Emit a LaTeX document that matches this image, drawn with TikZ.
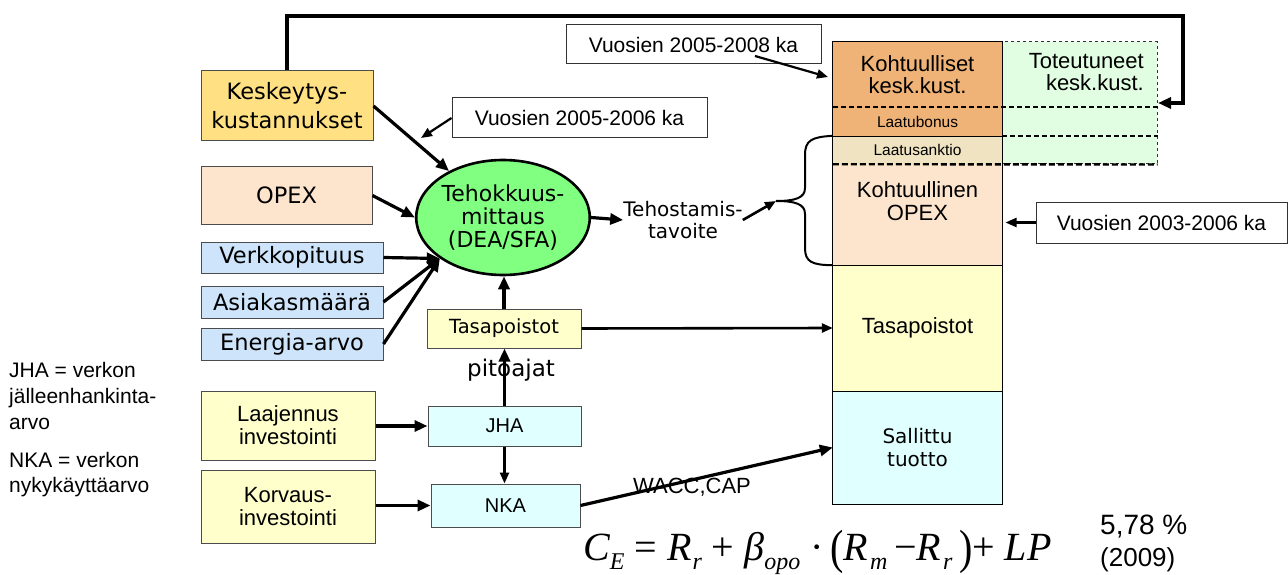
\documentclass[tikz,border=0pt]{standalone}
\usepackage{fontspec}
\usepackage{graphicx}
\setmainfont{DejaVu Sans}
\newfontfamily\ar{Liberation Sans}
\newfontfamily\tms{Liberation Serif}
\usetikzlibrary{arrows.meta,calc,shapes.geometric}
\newcommand\fsz[2]{\fontsize{#1}{#2}\selectfont}
\newcommand\sbs[1]{\raisebox{-9pt}{\fsz{24}{24}\itshape #1}}
\definecolor{kesc}{HTML}{FFE183}
\definecolor{opexc}{HTML}{FDE4CD}
\definecolor{bluec}{HTML}{CDE4FA}
\definecolor{greenc}{HTML}{80FF80}
\definecolor{yelc}{HTML}{FFFFCC}
\definecolor{cyanc}{HTML}{E0FFFF}
\definecolor{orc}{HTML}{EFB377}
\definecolor{begc}{HTML}{EFE3C1}
\definecolor{lgc}{HTML}{E2FEE2}
\begin{document}
\begin{tikzpicture}[x=1pt,y=-1pt,
  box/.style={draw=black!70, line width=1pt, inner sep=0pt, align=center},
  cell/.style={inner sep=0pt, align=center, minimum width=169pt},
  lab/.style={inner sep=0pt, align=center},
  arr/.style={line width=3.2pt, -{Triangle[length=13pt,width=11pt]}},
  tarr/.style={line width=2.2pt, -{Triangle[length=11pt,width=9pt]}},
  big/.style={font=\fsz{22.5}{29}},
  cnd/.style={font=\ar\fsz{21}{24}}
]
\useasboundingbox[fill=white] (0,0) rectangle (1288,575);

% ---------- left input boxes ----------
\node[box, big, fill=kesc, minimum width=172pt, minimum height=70pt] (kes) at (287,106) {Keskeytys-\\kustannukset};
\node[box, big, fill=opexc, minimum width=171pt, minimum height=57pt] (opex) at (286.5,195.5) {OPEX};
\node[box, big, fill=bluec, minimum width=182pt, minimum height=31pt] (verk) at (292,257.5) {Verkkopituus};
\node[box, big, fill=bluec, minimum width=182pt, minimum height=32pt] (asia) at (292,302) {Asiakasmäärä};
\node[box, big, fill=bluec, minimum width=182pt, minimum height=32pt] (ener) at (292,344) {Energia-arvo};

% ---------- efficiency measurement ----------
\node[ellipse, draw=black, line width=2.6pt, fill=greenc, minimum width=160pt, minimum height=115pt, inner sep=0pt, align=center, font=\fsz{22}{23}] (ell) at (503,217.5) {Tehokkuus-\\mittaus\\(DEA/SFA)};
\coordinate (conv) at (ell.213);

\node[box, draw=black!80, cnd, fill=white, minimum width=255pt, minimum height=40pt] (v0506) at (579.5,118) {Vuosien 2005-2006 ka};
\coordinate (p1) at (421,138);
\node[box, draw=black!80, cnd, fill=white, minimum width=255pt, minimum height=39pt] (v0508) at (693.5,44.5) {Vuosien 2005-2008 ka};
\coordinate (p2s) at (755,56);
\coordinate (p2e) at (828,77);

\node[lab, font=\fsz{20}{22}] (teh) at (683,220) {Tehostamis-\\tavoite};

% ---------- asset boxes ----------
\node[box, fill=yelc, minimum width=154pt, minimum height=39pt, font=\fsz{19.5}{22}] (tasa) at (504,328.5) {Tasapoistot};
\node[lab, font=\fsz{23}{23}] (pito) at (511,370) {pitoajat};
\node[box, cnd, font=\ar\fsz{22}{23}, fill=yelc, minimum width=174pt, minimum height=69pt] (laaj) at (288,425.5) {Laajennus\\investointi};
\node[box, cnd, font=\ar\fsz{22}{23}, fill=yelc, minimum width=174pt, minimum height=73pt] (korv) at (288,506.5) {Korvaus-\\investointi};
\node[box, font=\ar\fsz{20}{22}, fill=cyanc, minimum width=153pt, minimum height=40pt] (jha) at (504.5,426) {JHA};
\node[box, font=\ar\fsz{20}{22}, fill=cyanc, minimum width=149pt, minimum height=43pt] (nka) at (505.5,505.5) {NKA};
\node[lab, font=\ar\fsz{22}{22}] (wacc) at (692,487) {WACC,CAP};

% ---------- left explanations ----------
\node[lab, align=left, anchor=west, font=\ar\fsz{21}{26}] (jhaeq) at (9,396) {JHA = verkon\\jälleenhankinta-\\arvo};
\node[lab, align=left, anchor=west, font=\ar\fsz{21}{25}] (nkaeq) at (9,475) {NKA = verkon\\nykykäyttäarvo};

% ---------- cost column ----------
\node[cell, fill=orc, minimum height=65pt, font=\ar\fsz{22}{22}] (c1) at (917.5,74.5) {Kohtuulliset\\kesk.kust.};
\node[cell, fill=orc, minimum height=29pt, font=\ar\fsz{15.5}{16}] (c2) at (917.5,121.5) {Laatubonus};
\node[cell, fill=begc, minimum height=28pt, font=\ar\fsz{15.5}{16}] (c3) at (917.5,150) {Laatusanktio};
\node[cell, fill=opexc, minimum height=101pt] (c4) at (917.5,214.5) {};
\node[lab, font=\ar\fsz{22}{23}] (c4t) at (917.5,201.5) {Kohtuullinen\\OPEX};
\node[cell, fill=yelc, minimum height=126pt, font=\ar\fsz{22}{22}] (c5) at (917.5,328) {Tasapoistot};
\node[cell, fill=cyanc, minimum height=113pt, font=\fsz{20}{23}] (c6) at (917.5,447.5) {Sallittu\\tuotto};
\node[draw=black!80, dashed, line width=1pt, fill=lgc, minimum width=155pt, minimum height=122pt, inner sep=0pt] (tot) at (1079.5,103) {};
\node[lab, align=right, anchor=east, font=\ar\fsz{22}{22}] (tott) at (1144,72) {Toteutuneet\\kesk.kust.};

\draw[line width=1.3pt] (c1.north west) rectangle (c6.south east);
\draw[line width=1.3pt] (c2.south west) -- (c2.south east);
\draw[line width=1.3pt] (c4.south west) -- (c4.south east);
\draw[line width=1.3pt] (c5.south west) -- (c5.south east);
\draw[line width=1.3pt] (c1.north east) -- (c3.south east);
\draw[line width=1.6pt, dash pattern=on 5pt off 3pt] (c1.south west) -- (tot.east |- c1.south);
\draw[line width=1.6pt, dash pattern=on 5pt off 3pt] (c2.south east) -- (tot.east |- c2.south);
\draw[line width=2.4pt, dash pattern=on 6pt off 3pt] (c3.south west) -- (tot.south east);

\node[box, draw=black!80, cnd, fill=white, minimum width=251pt, minimum height=41pt] (v0306) at (1161.5,222.5) {Vuosien 2003-2006 ka};

% ---------- brace ----------
\coordinate (bt) at (776,201);
\draw[line width=2pt] (c3.north west) .. controls (812,137) and (805,140) .. (805,155) -- (805,188)
   .. controls (805,198) and (795,201) .. (bt)
   .. controls (795,201) and (805,204) .. (805,214) -- (805,248)
   .. controls (805,262) and (812,265) .. (c4.south west);

% ---------- formula ----------
\node[anchor=base west, inner sep=0pt, font=\tms\fsz{40}{40}] (form) at (583,560) {\itshape C\sbs{E}\upshape\ =\ \itshape R\kern1pt\sbs{r}\upshape\ +\ \itshape β\sbs{opo}\upshape\ ·\,\raisebox{-3pt}{\scalebox{1}[1.2]{(}}\itshape R\kern2pt\sbs{m}\upshape\,−\itshape R\kern2pt\sbs{r}\upshape\,\raisebox{-3pt}{\scalebox{1}[1.2]{)}}+\ \itshape LP};
\node[anchor=base west, inner sep=0pt, font=\ar\fsz{28}{28}] (pct) at (1100,534) {5,78~\%};
\node[anchor=base west, inner sep=0pt, font=\ar\fsz{26}{26}] (yr) at (1100,566) {(2009)};

% ---------- connectors ----------
\coordinate (fbA) at (1183,16);
\coordinate (fbB) at (1158,103);
\draw[arr] (kes.north) |- (fbA) |- (fbB);
\draw[arr] (kes.east) -- (ell);
\draw[arr] (opex.east) -- (ell.west);
\draw[arr] (verk.east) -- (conv);
\draw[arr] (asia.east) -- (conv);
\draw[arr] (ener.east) -- (conv);
\draw[tarr] (v0506.west) -- (p1);
\draw[tarr] (p2s) -- (p2e);
\draw[arr] (ell.east) -- (teh.west);
\draw[tarr, line width=2.6pt] (teh.east) -- (bt);
\draw[tarr] (v0306.west) -- ++(-30,0) coordinate (p3);
\draw[arr] (tasa.north) -- (tasa.north |- ell.south);
\draw[tarr, line width=2.6pt] (tasa.east) -- (c5.west);
\draw[arr] (jha.north) -- (jha.north |- tasa.south);
\draw[arr] (laaj.east |- jha.west) -- (jha.west);
\draw[arr] (korv.east |- nka.west) -- (nka.west);
\draw[tarr, line width=2.4pt] (jha.south) -- (jha.south |- nka.north);
\draw[arr] (nka.east) -- (c6.west);
\end{tikzpicture}
\end{document}
